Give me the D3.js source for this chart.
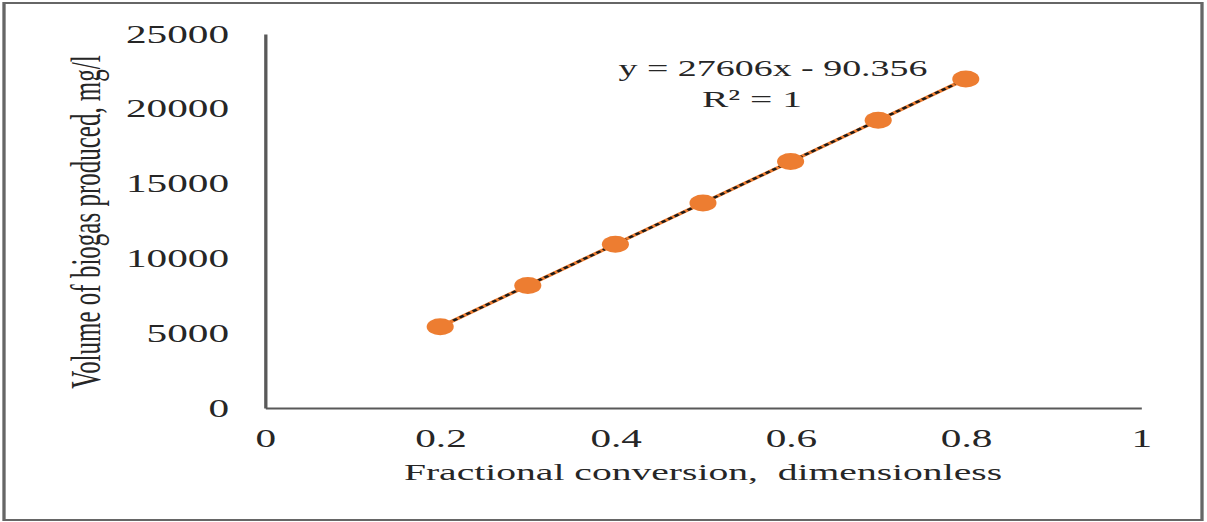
<!DOCTYPE html>
<html>
<head>
<meta charset="utf-8">
<script src="https://cdn.jsdelivr.net/npm/d3@7"></script>
<style>
  html, body { margin: 0; padding: 0; background: #fff; }
  svg { display: block; }
  text { font-family: "Liberation Serif", "Times New Roman", serif; fill: #262626; }
</style>
</head>
<body>
<div id="plot"></div>
<script>
// data
var conversion = [0.2, 0.3, 0.4, 0.5, 0.6, 0.7, 0.8];
var biogas = [5430, 8190, 10950, 13710, 16470, 19230, 21990];
var xTicks = [0, 0.2, 0.4, 0.6, 0.8, 1];
var yTicks = [0, 5000, 10000, 15000, 20000, 25000];
var xTitle = "Fractional conversion,  dimensionless";
var yTitle = "Volume of biogas produced, mg/l";
var eqLine1 = "y = 27606x - 90.356";
var eqLine2 = "R\u00B2 = 1";

var width = 1207, height = 522;
var sx = 1.65; // the source picture is stretched sideways
var vbW = width / sx;

var svg = d3.select("#plot").append("svg")
    .attr("width", width)
    .attr("height", height)
    .attr("viewBox", "0 0 " + vbW + " " + height)
    .attr("preserveAspectRatio", "none");

// outer frame
svg.append("rect")
    .attr("x", 4 / sx).attr("y", 3)
    .attr("width", (1202 - 4) / sx).attr("height", 517)
    .attr("fill", "none")
    .attr("stroke", "#666")
    .attr("stroke-width", 2);

var x = d3.scaleLinear().domain([0, 1]).range([265 / sx, 1141 / sx]);
var y = d3.scaleLinear().domain([0, 25000]).range([408, 34]);

var axisY = svg.append("g")
    .attr("transform", "translate(" + x(0) + ",0)")
    .call(d3.axisLeft(y).tickValues(yTicks).tickSize(0).tickSizeOuter(0)
        .tickPadding(36 / sx).tickFormat(function (d) { return d; }));
axisY.select(".domain").attr("stroke", "#595959").attr("stroke-width", 2);
axisY.selectAll("text").attr("font-size", "25px").attr("font-family", null).style("fill", "#262626");

var axisX = svg.append("g")
    .attr("transform", "translate(0," + y(0) + ")")
    .call(d3.axisBottom(x).tickValues(xTicks).tickSize(0).tickSizeOuter(0)
        .tickPadding(21).tickFormat(function (d) { return d; }));
axisX.select(".domain").attr("stroke", "#595959").attr("stroke-width", 2);
axisX.selectAll("text").attr("font-size", "25px").attr("font-family", null).style("fill", "#262626");

// axis titles
svg.append("text")
    .attr("x", x(0.5)).attr("y", 480)
    .attr("text-anchor", "middle")
    .attr("font-size", "24px")
    .style("white-space", "pre")
    .text(xTitle);

svg.append("text")
    .attr("transform", "translate(" + (100 / sx) + "," + 222 + ") rotate(-90)")
    .attr("text-anchor", "middle")
    .attr("font-size", "25px")
    .text(yTitle);

var pts = conversion.map(function (c, i) { return [c, biogas[i]]; });

// least squares fit for the trendline
var mx = d3.mean(conversion), my = d3.mean(biogas);
var slope = d3.sum(pts, function (p) { return (p[0] - mx) * (p[1] - my); }) /
    d3.sum(pts, function (p) { return (p[0] - mx) * (p[0] - mx); });
var icpt = my - slope * mx;
var fit = d3.extent(conversion).map(function (v) { return [v, slope * v + icpt]; });

var line = d3.line()
    .x(function (d) { return x(d[0]); })
    .y(function (d) { return y(d[1]); });

svg.append("path")
    .datum(pts)
    .attr("d", line)
    .attr("fill", "none")
    .attr("stroke", "#ed7d31")
    .attr("stroke-width", 3);

svg.append("path")
    .datum(fit)
    .attr("d", line)
    .attr("fill", "none")
    .attr("stroke", "#1a1a1a")
    .attr("stroke-width", 2.2)
    .attr("stroke-dasharray", "3,2");

svg.selectAll(".pt")
    .data(pts)
    .enter().append("ellipse")
    .attr("class", "pt")
    .attr("cx", function (d) { return x(d[0]); })
    .attr("cy", function (d) { return y(d[1]); })
    .attr("rx", 8.2)
    .attr("ry", 8.5)
    .attr("fill", "#ed7d31");

// trendline label
svg.append("text")
    .attr("x", 773 / sx).attr("y", 76)
    .attr("text-anchor", "middle")
    .attr("font-size", "23px")
    .text(eqLine1);
svg.append("text")
    .attr("x", 752 / sx).attr("y", 107)
    .attr("text-anchor", "middle")
    .attr("font-size", "24px")
    .text(eqLine2);
</script>
</body>
</html>
